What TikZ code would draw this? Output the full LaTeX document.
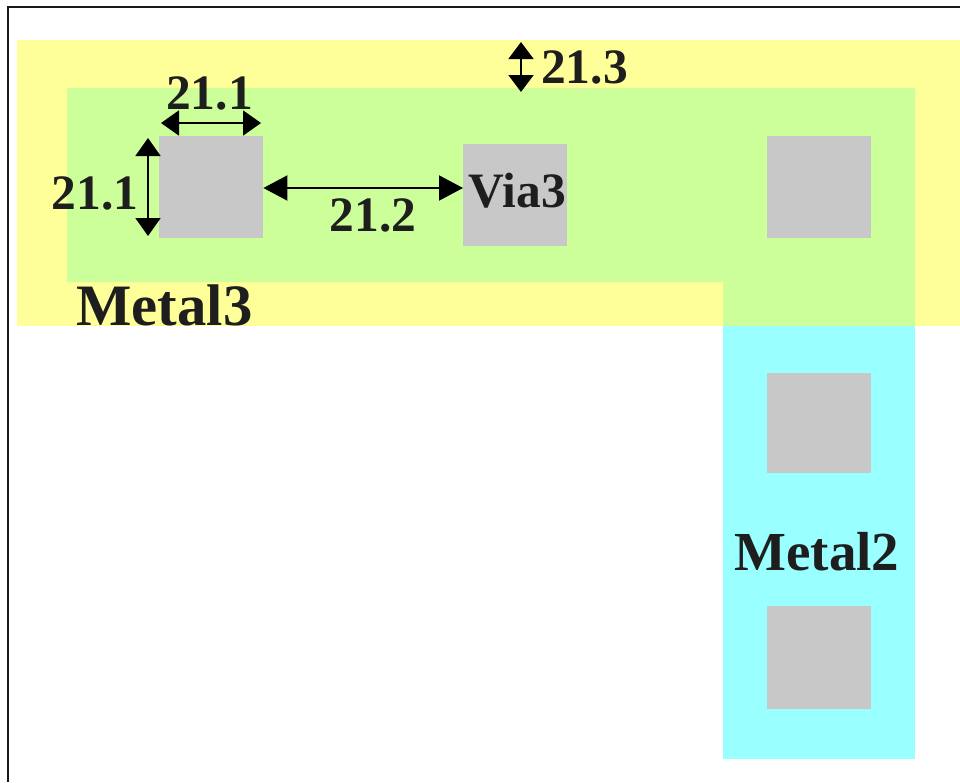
\documentclass[tikz,border=0pt]{standalone}
\usepackage{fontspec}
\setmainfont{Liberation Serif}
\usetikzlibrary{arrows.meta}
\definecolor{metalthree}{HTML}{FFFF99}
\definecolor{overlapc}{HTML}{CCFF99}
\definecolor{metaltwo}{HTML}{99FFFF}
\definecolor{viac}{HTML}{C8C8C8}
\definecolor{inkc}{HTML}{1E1E1E}
\tikzset{
  viabox/.style={fill=viac,draw=none,inner sep=0pt,minimum width=104pt,minimum height=#1,anchor=north west},
  viabox/.default=102pt,
  lbl/.style={text=inkc,inner sep=0pt,font=\bfseries\fontsize{49.5}{49.5}\selectfont},
  biglbl/.style={text=inkc,inner sep=0pt,font=\bfseries\fontsize{#1}{#1}\selectfont},
  dim/.style={line width=2pt,black,{Triangle[length=#1,width=25pt]}-{Triangle[length=#1,width=25pt]},shorten >=0pt,shorten <=0pt},
  dim/.default=18pt
}
\begin{document}
\begin{tikzpicture}[x=1pt,y=-1pt]
\useasboundingbox (0,0) rectangle (960,782);
\fill[white] (0,0) rectangle (960,782);
\draw[line width=2pt,black!90] (8,782) -- (8,7) -- (960,7);
\fill[metalthree] (17,40) rectangle (960,326);
\fill[metaltwo] (723,326) rectangle (915,758.5);
\fill[overlapc] (67,88) -- (915,88) -- (915,326) -- (723,326) -- (723,282) -- (67,282) -- cycle;
\node[viabox] (v1) at (159,136) {};
\node[viabox] (v2) at (463,144) {};
\node[viabox] (v3) at (767,136) {};
\node[viabox=100pt] (v4) at (767,372.5) {};
\node[viabox=103pt] (v5) at (767,606) {};
\coordinate (wl) at (161,123);
\coordinate (wr) at (261,123);
\coordinate (ht) at (148,138);
\coordinate (hb) at (148,236);
\coordinate (st) at (521,42);
\coordinate (sb) at (521,92);
\draw[dim] (wl) -- (wr);
\draw[dim] (ht) -- (hb);
\draw[dim=24pt] (v1.east |- 0,188) -- (v2.west |- 0,188);
\draw[dim=17pt] (st) -- (sb);
\node[lbl] (a) at (209.5,93) {21.1};
\node[lbl] (b) at (95,193) {21.1};
\node[lbl] (c) at (373,215) {21.2};
\node[lbl] (d) at (584.5,67) {21.3};
\node[lbl] (e) at (517.5,191) {Via3};
\node[biglbl=58.7] (f) at (164.5,305) {Metal3};
\node[biglbl=55] (g) at (817,551.5) {Metal2};
\end{tikzpicture}
\end{document}
